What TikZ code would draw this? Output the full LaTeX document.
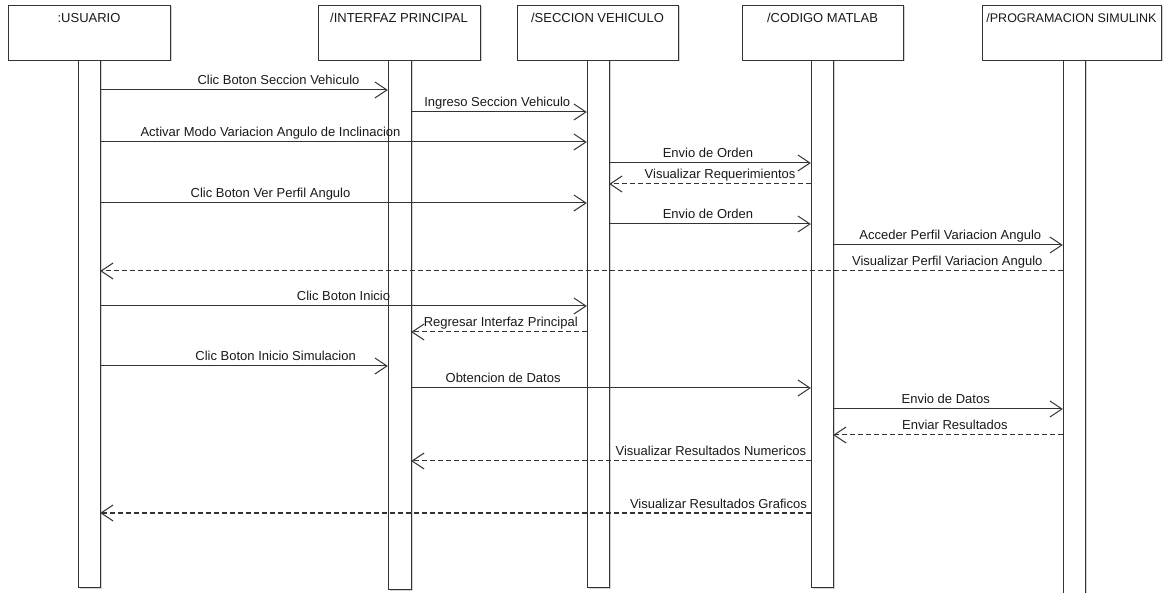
\documentclass[tikz,border=0pt]{standalone}
\usepackage{fontspec}
\setmainfont{Liberation Sans}
\usetikzlibrary{arrows.meta,shadows}

\tikzset{
  head/.style={draw=black!80, fill=white, minimum height=55pt, inner sep=0pt,
    drop shadow={shadow xshift=1.5pt, shadow yshift=-1.5pt, opacity=.35}},
  headtxt/.style={anchor=north, yshift=-8pt, inner sep=0pt, text=black!90,
    font=\fontsize{13}{15}\selectfont},
  bar/.style={draw=black!80, fill=white, minimum width=22pt, inner sep=0pt,
    drop shadow={shadow xshift=1.5pt, shadow yshift=-1.5pt, opacity=.35}},
  msg/.style={draw=black!80, line width=1pt, -{Straight Barb[length=12pt,width=16pt]}},
  ret/.style={msg, dash pattern=on 5pt off 3pt},
  txt/.style={anchor=base, yshift=5pt, inner sep=0pt, text=black!90,
    font=\fontsize{13}{15}\selectfont},
}

\begin{document}
\begin{tikzpicture}[x=1pt, y=-1pt]
    \useasboundingbox (0,0) rectangle (1168,593);
    % objetos
    \node[head, minimum width=162pt, label={[headtxt]north:{:USUARIO}}] (hu) at (89,32.5) {};
    \node[head, minimum width=162pt, label={[headtxt]north:{/INTERFAZ PRINCIPAL}}] (hi) at (399,32.5) {};
    \node[head, minimum width=161pt, label={[headtxt]north:{/SECCION VEHICULO}}] (hs) at (597.5,32.5) {};
    \node[head, minimum width=161pt, label={[headtxt]north:{/CODIGO MATLAB}}] (hc) at (822.5,32.5) {};
    \node[head, minimum width=179pt, label={[headtxt, font=\fontsize{12.5}{15}\selectfont]north:{/PROGRAMACION SIMULINK}}] (hp) at (1071.5,32.5) {};
    % lineas de vida
    \node[bar, minimum height=527pt] (bu) at (89,323.5) {};
    \node[bar, minimum width=23pt, minimum height=529pt] (bi) at (399.5,324.5) {};
    \node[bar, minimum height=527pt] (bs) at (598,323.5) {};
    \node[bar, minimum height=527pt] (bc) at (822,323.5) {};
    \node[bar, minimum height=540pt] (bp) at (1074,330) {};
    % mensajes
    \draw[msg] (bu.east |- 0,90) -- (bi.west |- 0,90) node[txt, pos=.62] {Clic Boton Seccion Vehiculo};
    \draw[msg] (bi.east |- 0,112) -- (bs.west |- 0,112) node[txt, pos=.49] {Ingreso Seccion Vehiculo};
    \draw[msg] (bu.east |- 0,142) -- (bs.west |- 0,142) node[txt, pos=.35] {Activar Modo Variacion Angulo de Inclinacion};
    \draw[msg] (bs.east |- 0,163) -- (bc.west |- 0,163) node[txt, pos=.49] {Envio de Orden};
    \draw[ret] (bc.west |- 0,184) -- (bs.east |- 0,184) node[txt, pos=.45] {Visualizar Requerimientos};
    \draw[msg] (bu.east |- 0,203) -- (bs.west |- 0,203) node[txt, pos=.35] {Clic Boton Ver Perfil Angulo};
    \draw[msg] (bs.east |- 0,224) -- (bc.west |- 0,224) node[txt, pos=.49] {Envio de Orden};
    \draw[msg] (bc.east |- 0,245) -- (bp.west |- 0,245) node[txt, pos=.51] {Acceder Perfil Variacion Angulo};
    \draw[ret] (bp.west |- 0,271) -- (bu.east |- 0,271) node[txt, pos=.12] {Visualizar Perfil Variacion Angulo};
    \draw[msg] (bu.east |- 0,306) -- (bs.west |- 0,306) node[txt, pos=.50] {Clic Boton Inicio};
    \draw[ret] (bs.west |- 0,332) -- (bi.east |- 0,332) node[txt, pos=.49] {Regresar Interfaz Principal};
    \draw[msg] (bu.east |- 0,366) -- (bi.west |- 0,366) node[txt, pos=.61] {Clic Boton Inicio Simulacion};
    \draw[msg] (bi.east |- 0,388) -- (bc.west |- 0,388) node[txt, pos=.23] {Obtencion de Datos};
    \draw[msg] (bc.east |- 0,409) -- (bp.west |- 0,409) node[txt, pos=.49] {Envio de Datos};
    \draw[ret] (bp.west |- 0,435) -- (bc.east |- 0,435) node[txt, pos=.47] {Enviar Resultados};
    \draw[ret] (bc.west |- 0,461) -- (bi.east |- 0,461) node[txt, pos=.25] {Visualizar Resultados Numericos};
    \draw[ret] (bc.west |- 0,513) -- (bu.east |- 0,513) node[txt, pos=.13] {Visualizar Resultados Graficos};
\end{tikzpicture}
\end{document}
